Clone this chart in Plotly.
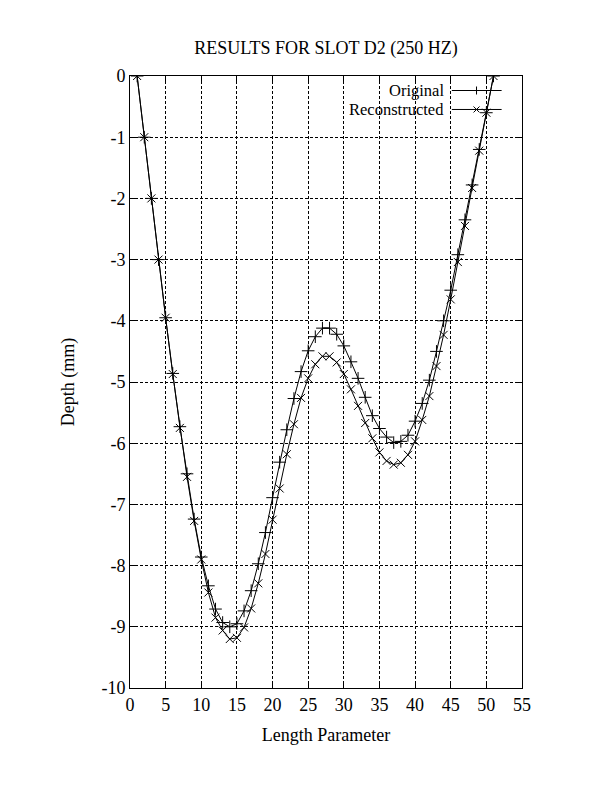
import plotly.graph_objects as go

# Data (length parameter 1..51)
length = list(range(1, 52))
original = [
    0.0, -1.0, -2.0, -3.0, -3.95, -4.86, -5.73, -6.5, -7.24, -7.86,
    -8.33, -8.71, -8.93, -9.0, -8.95, -8.74, -8.41, -7.97, -7.46, -6.89,
    -6.31, -5.78, -5.27, -4.83, -4.49, -4.26, -4.12, -4.12, -4.22, -4.41,
    -4.67, -4.94, -5.25, -5.55, -5.76, -5.9, -5.99, -5.97, -5.87, -5.64,
    -5.35, -4.97, -4.5, -4.0, -3.5, -2.92, -2.35, -1.78, -1.2, -0.6, 0.0,
]
reconstructed = [
    0.0, -1.0, -2.0, -3.0, -3.95, -4.87, -5.75, -6.55, -7.27, -7.9,
    -8.44, -8.85, -9.06, -9.2, -9.18, -9.01, -8.7, -8.29, -7.81, -7.25,
    -6.74, -6.18, -5.69, -5.26, -4.94, -4.71, -4.58, -4.58, -4.68, -4.87,
    -5.12, -5.39, -5.67, -5.92, -6.15, -6.29, -6.35, -6.32, -6.19, -5.97,
    -5.62, -5.23, -4.74, -4.23, -3.65, -3.04, -2.45, -1.83, -1.22, -0.6, 0.0,
]

x_ticks = list(range(0, 56, 5))
y_ticks = list(range(0, -11, -1))
y_tick_text = [str(v) for v in y_ticks]  # plain hyphen minus

FONT = "Liberation Serif, Times New Roman, serif"
FS = 18

fig = go.Figure()
fig.add_trace(go.Scatter(
    x=length, y=original, mode="lines+markers", name="Original",
    line=dict(color="black", width=1),
    marker=dict(symbol="cross-thin", size=9, line=dict(color="black", width=1)),
))
fig.add_trace(go.Scatter(
    x=length, y=reconstructed, mode="lines+markers", name="Reconstructed",
    line=dict(color="black", width=1),
    marker=dict(symbol="x-thin", size=8, line=dict(color="black", width=1)),
))

axis_style = dict(
    showline=True, linecolor="black", linewidth=1, mirror="allticks",
    ticks="inside", ticklen=7, tickcolor="black",
    showgrid=True, gridcolor="black", gridwidth=1, griddash="3px,2px",
    zeroline=False, tickfont=dict(family=FONT, size=FS, color="black"),
)
fig.update_xaxes(
    range=[0, 55], tickvals=x_ticks, **axis_style,
    title=dict(text="Length Parameter", font=dict(family=FONT, size=FS, color="black"), standoff=14),
)
fig.update_yaxes(
    range=[-10, 0], tickvals=y_ticks, ticktext=y_tick_text, **axis_style,
    title=dict(text="Depth (mm)", font=dict(family=FONT, size=FS, color="black"), standoff=22),
)

# gnuplot style key: text right-aligned, sample line to its right
fig.add_shape(type="rect", xref="paper", yref="paper", x0=0.52, x1=0.965, y0=0.932, y1=0.998,
              fillcolor="white", line=dict(width=0), layer="between")
key_rows = [("Original", 0.9763, "plus"), ("Reconstructed", 0.9453, "cross")]
key_x = 0.884
for label, ky, mk in key_rows:
    fig.add_annotation(text=label, xref="paper", yref="paper", x=0.806, y=ky,
                       xanchor="right", yanchor="middle", showarrow=False,
                       font=dict(family=FONT, size=16.5, color="black"))
    fig.add_shape(type="line", xref="paper", yref="paper", x0=0.821, x1=0.948, y0=ky, y1=ky,
                  line=dict(color="black", width=1))
    if mk == "plus":
        fig.add_shape(type="line", xref="paper", yref="paper", xsizemode="pixel", ysizemode="pixel",
                      xanchor=key_x, yanchor=ky, x0=0, x1=0, y0=-4, y1=4, line=dict(color="black", width=1))
    else:
        fig.add_shape(type="line", xref="paper", yref="paper", xsizemode="pixel", ysizemode="pixel",
                      xanchor=key_x, yanchor=ky, x0=-3, x1=3, y0=-3, y1=3, line=dict(color="black", width=1))
        fig.add_shape(type="line", xref="paper", yref="paper", xsizemode="pixel", ysizemode="pixel",
                      xanchor=key_x, yanchor=ky, x0=-3, x1=3, y0=3, y1=-3, line=dict(color="black", width=1))

# page body adds an 8px offset, so margins are shifted to land the plot at 130..522 x 76..688
fig.update_layout(
    width=612, height=792,
    margin=dict(l=122, r=98, t=68, b=112),
    paper_bgcolor="white", plot_bgcolor="white",
    showlegend=False,
    title=dict(text="RESULTS FOR SLOT D2 (250 HZ)", x=318 / 612, xanchor="center",
               y=1 - 40 / 792, yanchor="middle", font=dict(family=FONT, size=FS, color="black")),
    font=dict(family=FONT, color="black"),
)

fig.write_html("out.html")
